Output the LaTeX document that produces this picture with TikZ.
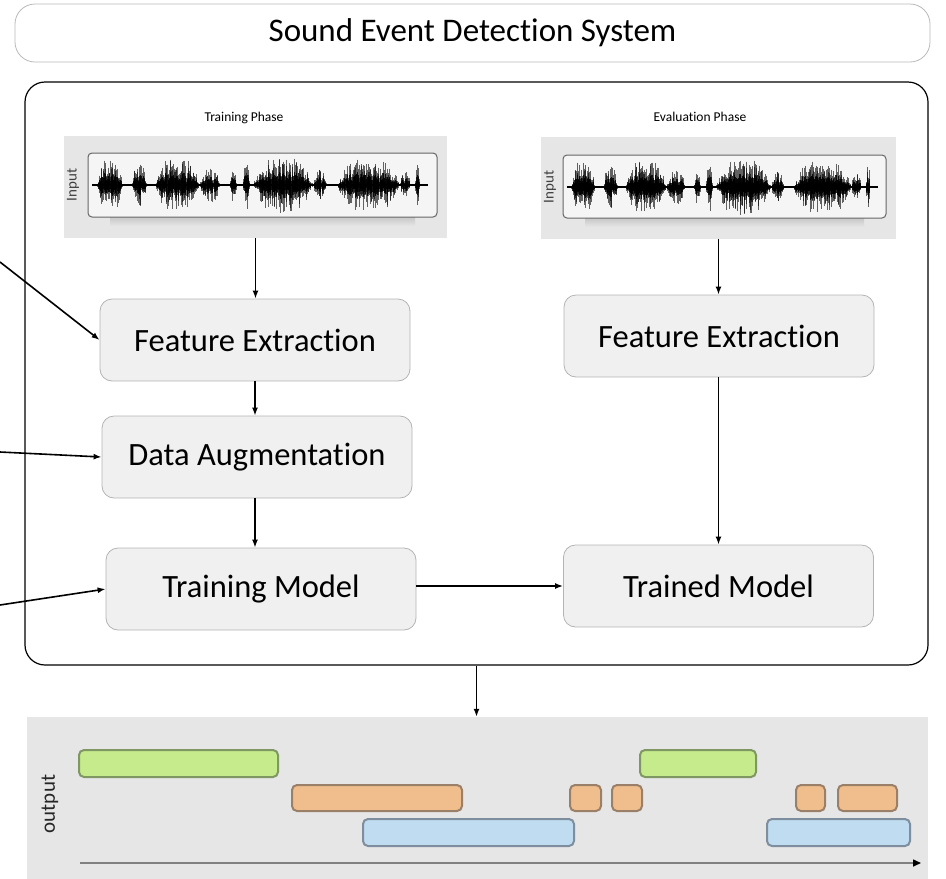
\documentclass[tikz,border=0pt]{standalone}
\usepackage{fontspec}
\setmainfont{Carlito}[Ligatures=NoCommon]
\usetikzlibrary{arrows.meta,calc}
\definecolor{boxfill}{HTML}{F0F0F0}
\definecolor{boxline}{HTML}{B4B4B4}
\definecolor{panelc}{HTML}{E6E6E6}
\definecolor{gfill}{HTML}{C6EB8C}
\definecolor{gline}{HTML}{7F9762}
\definecolor{ofill}{HTML}{F0BE8C}
\definecolor{oline}{HTML}{9A8068}
\definecolor{bfill}{HTML}{C0DCF0}
\definecolor{bline}{HTML}{7E8E9E}
\newcommand\drawwave{%
  \draw[line width=1.6pt,black] (0.012,0) -- (0.975,0);
  \foreach \wa/\wb/\wh in {0.026/0.100/1.0,0.126/0.169/0.75,0.192/0.321/0.95,0.321/0.378/0.6,0.407/0.427/0.6,0.444/0.464/0.9,0.473/0.645/1.0,0.645/0.685/0.55,0.713/0.894/0.95,0.894/0.923/0.5,0.937/0.951/0.8}{%
    \pgfmathtruncatemacro\nn{(\wb-\wa)*650}
    \foreach \i in {0,...,\nn}{%
      \pgfmathsetmacro\ff{\i/\nn}
      \pgfmathsetmacro\xx{\wa+(\wb-\wa)*\ff}
      \pgfmathsetmacro\sv{abs(sin(180*\ff))}
      \pgfmathsetmacro\ee{\wh*\sv*(2-\sv)}
      \pgfmathsetmacro\ra{rnd}
      \pgfmathsetmacro\rb{rnd}
      \pgfmathsetmacro\up{\ee*(0.25+0.75*\ra*(0.4+0.6*\ra))}
      \pgfmathsetmacro\dn{\ee*(0.25+0.75*\rb*(0.4+0.6*\rb))}
      \draw[wavestroke] (\xx,-\up) -- (\xx,\dn);
      \draw[wavecore] (\xx,-0.5*\up) -- (\xx,0.5*\dn);
    }
  }
}
\begin{document}
\begin{tikzpicture}[x=1pt,y=-1pt,
  wavestroke/.style={black,line width=0.9pt,opacity=0.6},
  wavecore/.style={black,line width=1pt,opacity=0.85},
  procbox/.style={draw=boxline,fill=boxfill,rounded corners=12pt,line width=0.8pt,
    minimum width=310pt,minimum height=82pt,inner sep=0pt,
    font=\fontsize{32.5}{38}\selectfont},
  panel/.style={fill=panelc,inner sep=0pt},
  arr/.style={-{Latex[length=8pt,width=6pt]},line width=1.6pt,black},
  bar/.style={rounded corners=5pt,line width=2pt},
  phase/.style={font=\fontsize{13.5}{16}\selectfont},
  inlabel/.style={rotate=90,font=\fontsize{15}{18}\selectfont,text=black!75}]
\useasboundingbox (0,0) rectangle (946,879);
% title
\node[draw=gray!55,line width=0.8pt,rounded corners=20pt,minimum width=915pt,minimum height=58pt,inner sep=0pt,
  font=\fontsize{33}{38}\selectfont] (title) at (472.5,33) {Sound Event Detection System};
% main box
\node[draw=black,line width=1.2pt,rounded corners=20pt,minimum width=903pt,minimum height=583pt,inner sep=0pt] (main) at (476.5,373.5) {};
% phase labels
\node[phase] (tp) at (244,118) {Training Phase};
\node[phase] (ep) at (700,117) {Evaluation Phase};
% waveform panels
\node[panel,minimum width=383pt,minimum height=102pt] (wp1) at (255.5,187) {};
\node[panel,minimum width=355pt,minimum height=102pt] (wp2) at (718.5,188) {};
\shade[top color=black!22,bottom color=panelc] (110,217) rectangle (415,226);
\shade[top color=black!22,bottom color=panelc] (585,218) rectangle (864,227);
\draw[fill=black!4,draw=black!60,line width=1pt,rounded corners=4pt] (88,153) rectangle (437,217);
\draw[fill=black!4,draw=black!60,line width=1pt,rounded corners=4pt] (563,155) rectangle (886,218);
\node[inlabel] (in1) at (73,185) {Input};
\node[inlabel] (in2) at (550,187) {Input};
\begin{scope}[shift={(88,185)},xscale=349,yscale=28]
  \pgfmathsetseed{11}
  \drawwave
\end{scope}
\begin{scope}[shift={(563,187)},xscale=323,yscale=28]
  \pgfmathsetseed{11}
  \drawwave
\end{scope}
% process boxes
\node[procbox] (fe1) at (255,340) {Feature Extraction};
\node[procbox] (da) at (257,457) {Data Augmentation};
\node[procbox] (tm) at (261,589) {Training Model};
\node[procbox] (fe2) at (719,336) {Feature Extraction};
\node[procbox] (trm) at (718.5,586) {Trained Model};
% connectors
\draw[arr] (wp1.south) -- (wp1.south |- fe1.north);
\draw[arr] (fe1.south) -- (fe1.south |- da.north);
\draw[arr] (da.south -| fe1.south) -- (fe1.south |- tm.north);
\draw[arr] (tm.east |- trm.west) -- (trm.west);
\draw[arr] (wp2.south) -- (wp2.south |- fe2.north);
\draw[arr] (fe2.south -| wp2.south) -- (wp2.south |- trm.north);
% incoming from outside
\coordinate (l1) at (0,262);
\coordinate (l2) at (0,452);
\coordinate (l3) at (0,605);
\draw[arr] (l1) -- (fe1.west);
\draw[arr] (l2) -- (da.west);
\draw[arr] (l3) -- (tm.west);
% output panel
\node[panel,minimum width=901pt,minimum height=162pt] (out) at (477.5,798) {};
\draw[arr] (main.south) -- (main.south |- out.north);
\node[rotate=90,font=\fontsize{21}{24}\selectfont,text=black!85] (olab) at (50,804) {output};
\draw[bar,fill=gfill,draw=gline] (79,750) rectangle (278,777);
\draw[bar,fill=gfill,draw=gline] (640,750) rectangle (756,777);
\draw[bar,fill=ofill,draw=oline] (292,785) rectangle (462,811);
\draw[bar,fill=ofill,draw=oline] (570,785) rectangle (601,811);
\draw[bar,fill=ofill,draw=oline] (612,785) rectangle (642,811);
\draw[bar,fill=ofill,draw=oline] (796,785) rectangle (825,811);
\draw[bar,fill=ofill,draw=oline] (838,785) rectangle (897,811);
\draw[bar,fill=bfill,draw=bline] (363,819) rectangle (574,846);
\draw[bar,fill=bfill,draw=bline] (767,819) rectangle (910,846);
\coordinate (ax0) at (80,863);
\coordinate (ax1) at (921,863);
\draw[line width=1.5pt,black!50,-{Triangle[length=8pt,width=7pt,black]}] (ax0) -- (ax1);
\end{tikzpicture}
\end{document}
